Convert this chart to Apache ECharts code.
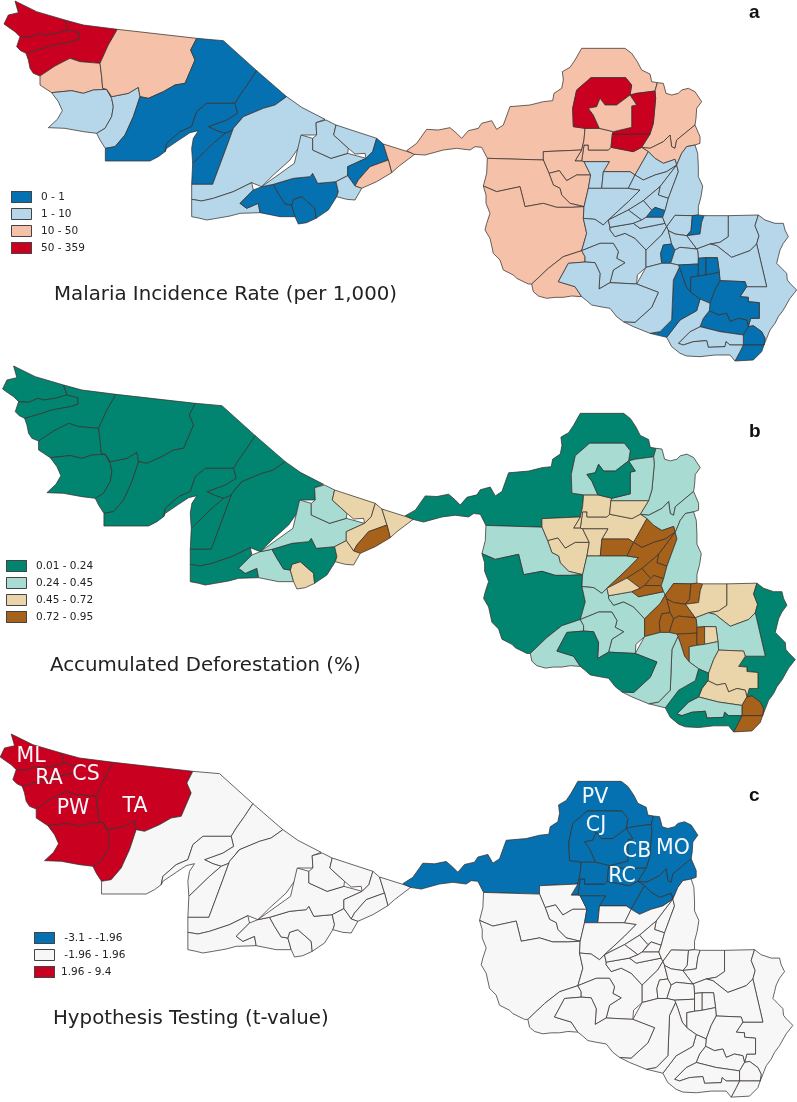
<!DOCTYPE html>
<html><head><meta charset="utf-8">
<script src="https://cdn.jsdelivr.net/npm/echarts@6/dist/echarts.min.js"></script>
<style>html,body{margin:0;padding:0;background:#fff}#c{width:797px;height:1102px}</style>
</head><body><div id="c"></div>
<script>
// Municipality outlines (Acre, then Rondonia)
const acreRegions = [
['ML','45,3 110,35 195,60 205,90 170,100 135,105 118,100 90,112 60,110 45,95 30,85 12,72 25,45 55,38'],
['RA','60,110 90,112 118,100 135,105 170,100 205,90 238,98 238,118 215,125 160,135 130,145 78,160 62,152 50,140'],
['CS','195,60 250,75 352,88 325,135 300,190 240,185 210,175 165,198 120,228 100,220 90,205 85,180 78,160 130,145 160,135 215,125 238,118 238,98 205,90'],
['PW','120,228 165,198 210,175 240,185 300,190 305,230 308,265 320,268 280,270 250,280 215,272 155,278 135,265 120,255'],
['A05','155,278 215,272 250,280 280,270 320,268 335,295 340,320 335,350 315,385 290,400 250,395 195,385 145,383 172,358 187,332 175,305'],
['A06','320,268 335,290 385,280 415,262 420,290 400,350 375,405 345,440 316,445 300,420 290,400 315,385 335,350 340,320 335,295'],
['TA','352,88 590,115 572,150 585,180 570,215 555,250 525,255 490,275 445,295 420,290 415,262 385,280 335,290 320,268 308,265 305,230 300,190 325,135'],
['A08','590,115 670,122 770,212 745,250 720,285 705,310 620,310 590,335 575,380 540,395 500,430 495,455 475,470 450,483 316,483 316,445 345,440 375,405 400,350 420,290 445,295 490,275 525,255 555,250 570,215 585,180 572,150'],
['A09','770,212 860,290 825,315 790,325 730,350 710,375 700,390 675,400 650,392 625,380 680,360 712,340 705,310 720,285 745,250'],
['A10','620,310 705,310 712,340 680,360 625,380 650,392 675,400 640,430 578,490 575,445 580,415 595,392 570,398 540,418 500,445 495,455 500,430 540,395 575,380 590,335'],
['A11','578,490 640,430 675,400 700,390 710,375 730,350 700,385 680,440 638,553 575,553'],
['A12','860,290 905,322 975,358 948,368 950,405 905,405 898,440 870,480 820,525 785,560 755,548 700,575 640,595 605,603 575,598 575,553 638,553 680,440 700,385 730,350 790,325 825,315'],
['A13','575,598 605,603 640,595 700,575 755,548 760,570 720,610 740,625 775,610 780,638 720,640 690,648 650,655 620,660 600,655 575,650'],
['A14','720,610 760,570 785,560 820,553 835,580 855,612 875,615 885,650 840,650 780,638 775,610 740,625'],
['A15','875,615 880,598 905,590 945,625 948,655 920,668 895,672 885,650'],
['A16','820,553 880,535 930,530 938,520 953,550 1008,545 1015,575 1010,590 985,630 948,655 945,625 905,590 880,598 875,615 855,612 835,580'],
['A17','785,560 883,490 903,405 938,415 938,450 993,475 1043,460 1098,475 1043,500 1043,527 1008,545 953,550 938,520 930,530 880,535 820,553'],
['A18','948,368 978,360 1008,375 1001,405 1045,445 1043,460 993,475 938,450 938,415 950,405'],
['A19','1008,375 1130,415 1118,455 1098,475 1095,460 1065,462 1045,445 1001,405'],
['A20','1130,415 1150,432 1165,480 1110,500 1075,540 1065,558 1043,527 1043,500 1098,475 1118,455'],
['A21','1150,432 1245,462 1195,500 1175,518 1165,480'],
['A22','1165,480 1175,518 1130,545 1085,565 1065,558 1075,540 1110,500'],
['A23','1008,545 1043,527 1065,558 1085,565 1065,600 1040,598 1010,590 1015,575']
];
const rondoniaRegions = [
['PV','262,295 245,262 225,260 210,270 170,265 130,270 75,285 42,283 20,272 50,250 80,208 115,210 150,203 170,220 185,235 205,212 235,205 245,190 275,182 290,208 310,195 330,140 390,135 430,125 458,122 462,100 485,85 490,60 487,35 510,22 525,0 545,-35 675,-35 695,-20 712,5 725,30 750,42 755,65 772,68 765,93 710,100 690,105 695,75 677,53 573,53 530,90 518,145 520,200 555,205 552,240 545,270 430,275 430,300'],
['MO','772,68 790,70 798,100 815,105 835,100 845,90 865,85 885,95 905,125 890,145 888,175 885,195 830,240 825,265 815,260 810,225 790,245 750,265 725,262 750,222 760,190 767,115 765,93'],
['M2','750,265 790,245 810,225 815,260 825,265 830,240 885,195 900,230 900,250 885,255 860,260 845,280 830,315 825,298 790,310 765,295 745,275 725,262'],
['RC','552,255 565,255 565,270 625,270 633,262 700,275 725,262 745,275 705,345 690,335 610,335 628,305 552,305 545,303'],
['N6','555,205 598,205 640,215 637,222 633,262 625,270 565,270 565,255 552,255 545,303 525,303 545,270 552,240'],
['N7','637,222 750,222 725,262 700,275 633,262'],
['CJ','573,53 677,53 695,75 690,105 650,135 615,135 600,115 590,140 565,145 580,165 598,205 555,205 520,200 518,145 530,90'],
['CB','690,105 710,100 765,93 767,115 760,190 750,222 637,222 640,215 695,202 695,138 710,135'],
['N10','600,115 615,135 650,135 690,105 710,135 695,138 695,202 640,215 598,205 580,165 565,145 590,140'],
['Q1','430,275 545,270 525,303 545,303 552,305 572,345 530,345 500,362 478,332 447,340 430,300'],
['Q2','447,340 478,332 500,362 530,345 572,345 565,385 552,440 510,430 485,405 480,385 460,375'],
['W1','262,295 430,300 447,340 460,375 480,385 485,405 510,430 552,440 515,442 470,442 430,430 375,440 360,380 290,395 250,378 260,340'],
['W2','250,378 290,395 360,380 375,440 430,430 470,442 515,442 552,440 550,475 560,520 545,572 490,590 445,625 395,672 385,672 350,655 340,645 310,630 300,600 280,580 270,535 255,510 260,490 270,460 258,430 258,405'],
['W3','395,672 445,625 490,590 545,572 555,590 555,606 505,610 475,665 525,680 545,710 515,708 490,712 465,712 440,715 415,708 400,695'],
['S1','552,305 628,305 610,335 605,385 565,385 572,345'],
['S2','610,335 690,335 705,345 685,385 605,385'],
['S3','565,385 605,385 685,385 720,390 685,425 625,480 610,495 585,478 550,475 552,440'],
['S4','550,475 585,478 610,495 625,480 630,502 630,510 645,530 675,520 705,535 738,570 738,622 712,645 710,672 630,668 640,630 675,608 650,595 655,575 640,550 600,550 545,572 560,520'],
['S5','545,572 600,550 640,550 655,575 650,595 675,608 640,630 630,668 597,687 600,640 585,608 555,606 555,590'],
['S6','630,502 700,490 720,505 795,490 800,500 785,525 738,570 705,535 675,520 645,530 630,510'],
['T1','745,275 765,295 790,310 825,298 830,315 800,335 765,345 730,360 705,345'],
['T2','705,345 730,360 765,345 800,335 830,315 780,380 730,422 685,450 625,480 685,425 720,390 685,385'],
['T3','830,315 835,335 805,415 775,405 780,380'],
['T4','780,380 775,405 805,415 795,452 765,442 755,450 730,422'],
['T5','738,472 765,442 795,452 788,472'],
['T6','730,422 755,450 738,472 725,480 685,450'],
['T7','625,480 685,450 725,480 700,490 630,502'],
['T8','700,490 725,480 738,472 788,472 795,490 720,505'],
['E1','845,280 860,260 885,255 893,280 895,320 895,350 908,378 903,410 895,440 895,465 877,467 825,466 800,500 795,490 788,472 795,452 805,415 835,335 830,315'],
['K4','825,466 877,467 873,512 860,527 825,522 805,512 800,500'],
['C2','877,467 895,465 912,467 905,487 900,522 860,527 873,512'],
['C3','912,467 985,467 985,530 960,547 930,552 890,567 860,527 900,522 905,487'],
['C4','985,467 1075,465 1065,497 1077,527 1070,552 1050,572 995,592 950,557 930,552 960,547 985,530'],
['C5','1075,465 1095,480 1125,490 1150,490 1155,510 1165,530 1150,550 1140,570 1135,590 1130,610 1145,625 1160,640 1162,660 1170,670 1190,690 1170,715 1150,750 1135,770 1125,790 1110,810 1100,835 1092,855 1095,835 1085,815 1060,797 1045,800 1052,775 1078,775 1078,728 1045,725 1045,712 1020,710 1040,680 1100,680 1070,552 1077,527 1065,497'],
['C6','890,567 930,552 950,557 995,592 1050,572 1070,552 1100,680 1040,680 1035,665 960,662 958,637 952,593 918,593 895,595 893,572'],
['K1','738,570 785,525 800,500 805,512 815,552 790,555 782,580 785,610 738,622'],
['D1','790,555 815,552 825,570 812,610 785,610 782,580'],
['K3','805,512 825,522 860,527 890,567 840,562 825,570 815,552'],
['K5','825,570 840,562 890,567 893,572 895,595 895,612 835,615 812,610'],
['K6','835,615 895,612 895,648 872,652 872,697 858,680 845,640 838,622'],
['K7','895,595 918,593 918,645 895,648 895,612'],
['K8','918,593 952,593 958,637 918,645'],
['K9','872,652 895,648 918,645 958,637 960,662 945,690 930,730 900,717 872,697'],
['K10','960,662 1035,665 1040,680 1020,710 1045,712 1045,725 1078,728 1078,775 1052,775 1045,800 1040,780 1015,775 990,785 980,760 955,765 928,752 930,730 945,690'],
['K11','928,752 955,765 980,760 990,785 1015,775 1040,780 1045,800 1030,825 960,815 900,800 910,775'],
['K12','1045,800 1060,797 1085,815 1095,835 1092,855 1030,855 1030,825'],
['K13','1030,855 1092,855 1085,875 1060,900 1005,903 1020,875'],
['K14','835,850 870,815 900,800 960,815 1030,825 1030,855 990,855 978,845 975,860 925,862 920,842 880,845 850,855'],
['K15','800,832 840,780 890,752 900,717 930,730 928,752 910,775 900,800 870,815 835,850 850,855 880,845 920,842 925,862 975,860 978,845 990,855 1030,855 1020,875 1005,903 990,885 945,885 900,890 860,888 840,880 815,860'],
['K18','820,660 838,622 845,640 858,680 872,697 900,717 890,752 840,780 800,832 750,820 780,815 815,780'],
['K19','710,672 738,622 785,610 812,610 835,615 838,622 820,660 815,780 780,815 750,820 700,800 670,785 705,787 755,742 775,697'],
['K20','505,610 555,606 585,608 600,640 597,687 630,668 710,672 775,697 755,742 705,787 670,785 650,770 630,745 600,740 575,735 560,722 545,710 525,680 475,665']
];

// Class mid-values read per municipality, same order as the outlines
const malariaAcre = [150,150,150,30,5,5,30,.5,.5,.5,.5,5,5,.5,.5,.5,5,5,5,.5,30,30,5];
const malariaRondonia = [30,30,30,30,30,150,150,150,30,30,30,30,30,30,5,5,5,5,5,5,5,5,5,5,.5,5,5,5,5,5,.5,5,5,5,5,5,.5,5,5,.5,.5,.5,.5,.5,.5,.5,.5,5,5,.5,5,5];
const deforestAcre = [.12,.12,.12,.12,.12,.12,.12,.12,.12,.12,.12,.12,.12,.35,.6,.12,.35,.35,.6,.6,.6,.85,.6];
const deforestRondonia = [.12,.35,.35,.6,.6,.6,.35,.35,.12,.6,.6,.35,.12,.35,.6,.85,.35,.35,.35,.35,.85,.85,.85,.85,.85,.85,.6,.85,.35,.85,.85,.6,.6,.12,.35,.85,.85,.85,.85,.85,.85,.6,.35,.6,.6,.85,.85,.35,.12,.35,.35,.12];
const tAcre = [5,5,5,5,5,5,5,0,0,0,0,0,0,0,0,0,0,0,0,0,0,0,0];
const tRondonia = [-2.5,-2.5,-2.5,-2.5,-2.5,-2.5,-2.5,-2.5,-2.5,0,0,0,0,0,-2.5,0,0,0,0,0,-2.5,0,0,0,0,0,0,0,0,0,0,0,0,0,0,0,0,0,0,0,0,0,0,0,0,0,0,0,0,0,0,0];

const malariaClasses = [[0,1,'0 - 1','#0571b0'],[1,10,'1 - 10','#b6d6e9'],[10,50,'10 - 50','#f5c1a8'],[50,359,'50 - 359','#ca0020']];
const deforestClasses = [[.01,.24,'0.01 - 0.24','#018571'],[.24,.45,'0.24 - 0.45','#a8dbd2'],[.45,.72,'0.45 - 0.72','#e9d5a9'],[.72,.95,'0.72 - 0.95','#a6611a']];
const tClasses = [[-3.1,-1.96,' -3.1 - -1.96','#0571b0'],[-1.96,1.96,' -1.96 - 1.96','#f7f7f7'],[1.96,9.4,'1.96 - 9.4','#ca0020']];

const panelTitles = ['Malaria Incidence Rate (per 1,000)','Accumulated Deforestation (%)','Hypothesis Testing (t-value)'];
const panelLetters = ['a','b','c'];
const mapLabels = [['ML',31,757],['RA',49,779],['CS',86,775],['PW',73,809],['TA',135,807],['PV',595,798],['CJ',596,826],['CB',637,852],['MO',673,849],['RC',622,877]];

// Layout of the three panels
const panels = [
 {dx:0,dy:0,k:0,vals:malariaAcre.concat(malariaRondonia),classes:malariaClasses,legend:[11,191],gap:9,title:[54,285],letter:[749,3]},
 {dx:-1.4,dy:365,k:.019,vals:deforestAcre.concat(deforestRondonia),classes:deforestClasses,legend:[6,560],gap:9,title:[50,656],letter:[749,422]},
 {dx:-3.8,dy:733,k:.01,vals:tAcre.concat(tRondonia),classes:tClasses,legend:[34,932],gap:6,title:[53,1009],letter:[749,786]}
];

const parse = (s,f)=>s.trim().split(/\s+/).map(p=>{const [x,y]=p.split(',').map(Number);return f(x,y);});
const features = [];
const addRegion = (list,f)=>list.forEach(([name,s])=>{
  const ring = parse(s,f); ring.push(ring[0]);
  features.push({type:'Feature',properties:{name},geometry:{type:'Polygon',coordinates:[ring]}});
});
addRegion(acreRegions,(x,y)=>[x/3,y/3]);
addRegion(rondoniaRegions,(x,y)=>[400+x/3,60+y/3]);

const names = features.map(f=>f.properties.name);
const allPts = features.flatMap(f=>f.geometry.coordinates[0]);
const chart = echarts.init(document.getElementById('c'),null,{renderer:'canvas',width:797,height:1102});

const series=[],visualMap=[],title=[],graphic=[];
panels.forEach((p,i)=>{
  const mapName='panel'+i;
  echarts.registerMap(mapName,{type:'FeatureCollection',features:JSON.parse(JSON.stringify(features))});
  const project = ([x,y])=>[x+p.dx, y+p.dy+(x>415?(y-48)*p.k:0)];
  const pp = allPts.map(project);
  const xs=pp.map(q=>q[0]), ys=pp.map(q=>q[1]);
  const x0=Math.min(...xs),x1=Math.max(...xs),y0=Math.min(...ys),y1=Math.max(...ys);
  series.push({type:'map',map:mapName,silent:true,selectedMode:false,
    projection:{project,unproject:q=>q},
    left:x0,top:y0,width:x1-x0,height:y1-y0,
    label:{show:false},emphasis:{disabled:true},
    itemStyle:{borderColor:'#38322e',borderWidth:.75},
    data:names.map((name,j)=>({name,value:p.vals[j]}))});
  visualMap.push({type:'piecewise',seriesIndex:i,inverse:true,orient:'vertical',
    left:p.legend[0],top:p.legend[1],padding:0,itemWidth:21,itemHeight:12,itemGap:5,textGap:p.gap,
    itemSymbol:'rect',selectedMode:false,hoverLink:false,showLabel:true,
    textStyle:{fontFamily:'DejaVu Sans',fontSize:10.5,color:'#222'},
    pieces:p.classes.map(c=>({min:c[0],max:c[1],label:c[2],color:c[3]}))});
  p.classes.forEach((c,j)=>graphic.push({type:'rect',silent:true,z:50,
    shape:{x:p.legend[0]+.5,y:p.legend[1]+j*17+.5,width:20,height:11},
    style:{fill:'none',stroke:'#444',lineWidth:1}}));
  title.push({text:panelTitles[i],left:p.title[0],top:p.title[1],padding:0,
    textStyle:{fontFamily:'DejaVu Sans',fontSize:19.8,fontWeight:'normal',color:'#222'}});
  graphic.push({type:'text',silent:true,z:60,x:p.letter[0],y:p.letter[1],
    style:{text:panelLetters[i],fill:'#111',font:'bold 19px "Liberation Sans"'}});
});
mapLabels.forEach(([t,x,y])=>graphic.push({type:'text',silent:true,z:60,x,y,
  style:{text:t,fill:'#f4f8fb',font:'20.5px "DejaVu Sans"',textAlign:'center',textVerticalAlign:'middle'}}));

chart.setOption({animation:false,backgroundColor:'#fff',title,visualMap,series,graphic});
</script></body></html>
